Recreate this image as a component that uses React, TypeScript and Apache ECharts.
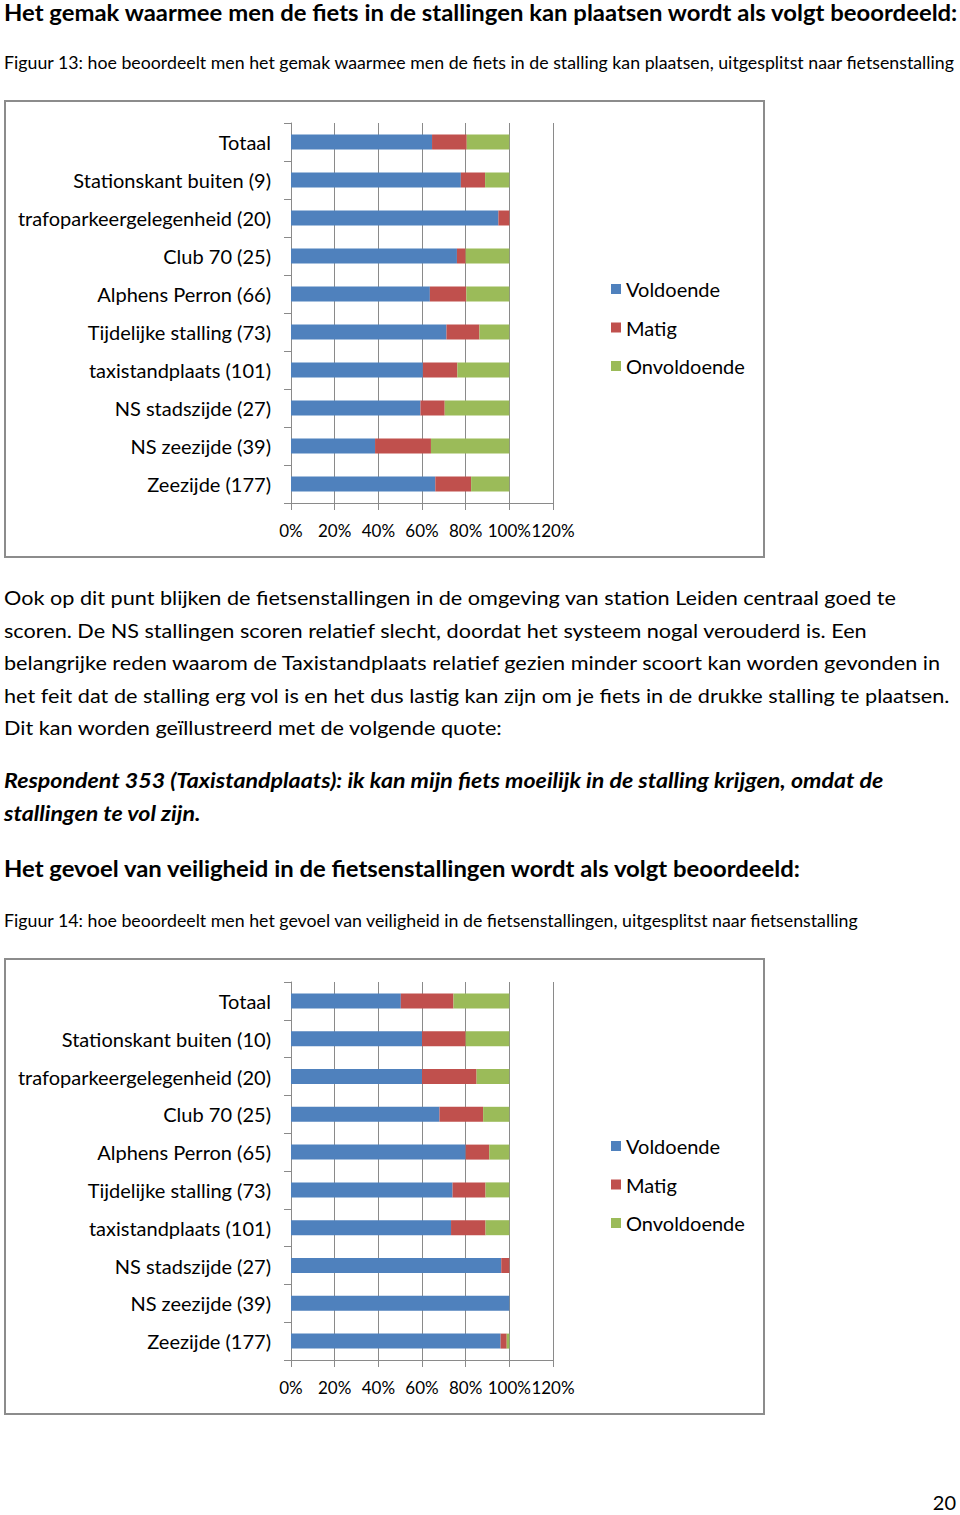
import React, { useEffect, useRef } from "react";
import * as echarts from "echarts";

const seriesNames = ["Voldoende", "Matig", "Onvoldoende"];
const colors = ["#4F81BD", "#C0504D", "#9BBB59"];
const xMax = 120;

const categories1 = [
  "Totaal",
  "Stationskant buiten (9)",
  "trafoparkeergelegenheid (20)",
  "Club 70 (25)",
  "Alphens Perron (66)",
  "Tijdelijke stalling (73)",
  "taxistandplaats (101)",
  "NS stadszijde (27)",
  "NS zeezijde (39)",
  "Zeezijde (177)",
];
const voldoende1 = [64.6, 77.8, 95, 76, 63.6, 71.2, 60.4, 59.3, 38.5, 66.1];
const matig1 = [15.9, 11.1, 5, 4, 16.7, 15.1, 15.8, 11.1, 25.6, 16.4];
const onvoldoende1 = [19.5, 11.1, 0, 20, 19.7, 13.7, 23.8, 29.6, 35.9, 17.5];

const categories2 = [
  "Totaal",
  "Stationskant buiten (10)",
  "trafoparkeergelegenheid (20)",
  "Club 70 (25)",
  "Alphens Perron (65)",
  "Tijdelijke stalling (73)",
  "taxistandplaats (101)",
  "NS stadszijde (27)",
  "NS zeezijde (39)",
  "Zeezijde (177)",
];
const voldoende2 = [50.3, 60, 60, 68, 80, 74, 73.3, 96.3, 100, 96];
const matig2 = [24.1, 20, 25, 20, 10.8, 15.1, 15.8, 3.7, 0, 2.8];
const onvoldoende2 = [25.6, 20, 15, 12, 9.2, 10.9, 10.9, 0, 0, 1.2];

const heading1 = "Het gemak waarmee men de fiets in de stallingen kan plaatsen wordt als volgt beoordeeld:";
const caption1 = "Figuur 13: hoe beoordeelt men het gemak waarmee men de fiets in de stalling kan plaatsen, uitgesplitst naar fietsenstalling";
const paragraph = [
  "Ook op dit punt blijken de fietsenstallingen in de omgeving van station Leiden centraal goed te",
  "scoren. De NS stallingen scoren relatief slecht, doordat het systeem nogal verouderd is. Een",
  "belangrijke reden waarom de Taxistandplaats relatief gezien minder scoort kan worden gevonden in",
  "het feit dat de stalling erg vol is en het dus lastig kan zijn om je fiets in de drukke stalling te plaatsen.",
  "Dit kan worden geïllustreerd met de volgende quote:",
];
const quote = [
  "Respondent 353 (Taxistandplaats): ik kan mijn fiets moeilijk in de stalling krijgen, omdat de",
  "stallingen te vol zijn.",
];
const heading2 = "Het gevoel van veiligheid in de fietsenstallingen wordt als volgt beoordeeld:";
const caption2 = "Figuur 14: hoe beoordeelt men het gevoel van veiligheid in de fietsenstallingen, uitgesplitst naar fietsenstalling";
const pageNumber = "20";

const FONT = "Lato";
const AXIS_COLOR = "#8a8a8a";

function App() {
  const ref = useRef<HTMLDivElement>(null);
  useEffect(() => {
    if (!ref.current) return;
    const chart = echarts.init(ref.current, null, { renderer: "svg" });

    const text = (t: string, x: number, y: number, size: number, opts: any = {}) => ({
      type: "text",
      x,
      y,
      scaleX: opts.sx || 1,
      style: {
        text: t,
        fontSize: size,
        fontFamily: FONT,
        fontWeight: opts.weight || "normal",
        fontStyle: opts.style || "normal",
        fill: "#000",
        align: opts.align || "left",
        verticalAlign: "middle",
      },
    });

    const graphics: any[] = [
      text(heading1, 4, 12, 22, { weight: "bold", sx: 1.086 }),
      text(caption1, 4, 63, 17, { sx: 1.045 }),
      ...paragraph.map((l, i) => text(l, 4, 597 + i * 32.5, 20, { sx: 1.083 })),
      ...quote.map((l, i) =>
        text(l, 4, 781 + i * 32.5, 20, { weight: "bold", style: "italic", sx: 1.16 })
      ),
      text(heading2, 4, 868, 22, { weight: "bold", sx: 1.085 }),
      text(caption2, 4, 921, 17, { sx: 1.045 }),
      text(pageNumber, 956, 1502, 20, { align: "right" }),
      {
        type: "rect",
        shape: { x: 5, y: 101, width: 759, height: 456 },
        style: { fill: "none", stroke: "#8c8c8c", lineWidth: 2 },
      },
      {
        type: "rect",
        shape: { x: 5, y: 959, width: 759, height: 455 },
        style: { fill: "none", stroke: "#8c8c8c", lineWidth: 2 },
      },
    ];

    const labelStyle = { fontSize: 17, fontFamily: FONT, color: "#000", margin: 19 };
    // main axis: draws line, ticks, grid lines and labels 0%..100%
    const xAxis = (gi: number) => ({
      type: "value",
      gridIndex: gi,
      position: "bottom",
      min: 0,
      max: xMax,
      interval: 20,
      axisLine: { show: true, lineStyle: { color: AXIS_COLOR } },
      axisTick: { show: true, length: 7, lineStyle: { color: AXIS_COLOR } },
      splitLine: { show: true, lineStyle: { color: AXIS_COLOR } },
      axisLabel: {
        ...labelStyle,
        formatter: (v: number) => (v === xMax ? "" : `${v}%`),
      },
    });
    // overlay axis on the same place: only the last label (120%), packed tight next to 100% as in the original
    const xAxisMax = (gi: number) => ({
      type: "value",
      gridIndex: gi,
      position: "bottom",
      offset: 0,
      min: 0,
      max: xMax,
      interval: 20,
      axisLine: { show: false },
      axisTick: { show: false },
      splitLine: { show: false },
      axisLabel: {
        ...labelStyle,
        formatter: (v: number) => (v === xMax ? `${v}%` : ""),
      },
    });
    const yAxis = (gi: number, cats: string[]) => ({
      type: "category",
      gridIndex: gi,
      inverse: true,
      data: cats,
      axisLine: { show: true, lineStyle: { color: AXIS_COLOR } },
      axisTick: { show: true, length: 7, alignWithLabel: false, lineStyle: { color: AXIS_COLOR } },
      axisLabel: { fontSize: 20, fontFamily: FONT, color: "#000", margin: 20, interval: 0 },
    });

    const data1 = [voldoende1, matig1, onvoldoende1];
    const data2 = [voldoende2, matig2, onvoldoende2];
    const series: any[] = [];
    [data1, data2].forEach((d, gi) => {
      d.forEach((vals, si) => {
        series.push({
          type: "bar",
          name: seriesNames[si],
          xAxisIndex: gi,
          yAxisIndex: gi,
          stack: "s" + gi,
          data: vals,
          barWidth: 15,
          itemStyle: { color: colors[si] },
        });
      });
    });

    const legend = (top: number) => ({
      show: true,
      orient: "vertical",
      left: 611,
      top,
      padding: 0,
      itemWidth: 10,
      itemHeight: 10,
      itemGap: 18.5,
      icon: "rect",
      selectedMode: false,
      data: seriesNames,
      textStyle: { fontSize: 20, fontFamily: FONT, color: "#000" },
    });

    chart.setOption({
      animation: false,
      backgroundColor: "#fff",
      color: colors,
      grid: [
        { left: 291, top: 123, width: 262, height: 380 },
        { left: 291, top: 982, width: 262, height: 378 },
      ],
      xAxis: [xAxis(0), xAxis(1), xAxisMax(0), xAxisMax(1)],
      yAxis: [yAxis(0, categories1), yAxis(1, categories2)],
      legend: [legend(279), legend(1136)],
      series,
      graphic: graphics,
    });
    return () => chart.dispose();
  }, []);
  return (
    <div
      ref={ref}
      style={{ position: "absolute", left: 0, top: 0, width: 960, height: 1515, background: "#fff" }}
    />
  );
}

export default App;
